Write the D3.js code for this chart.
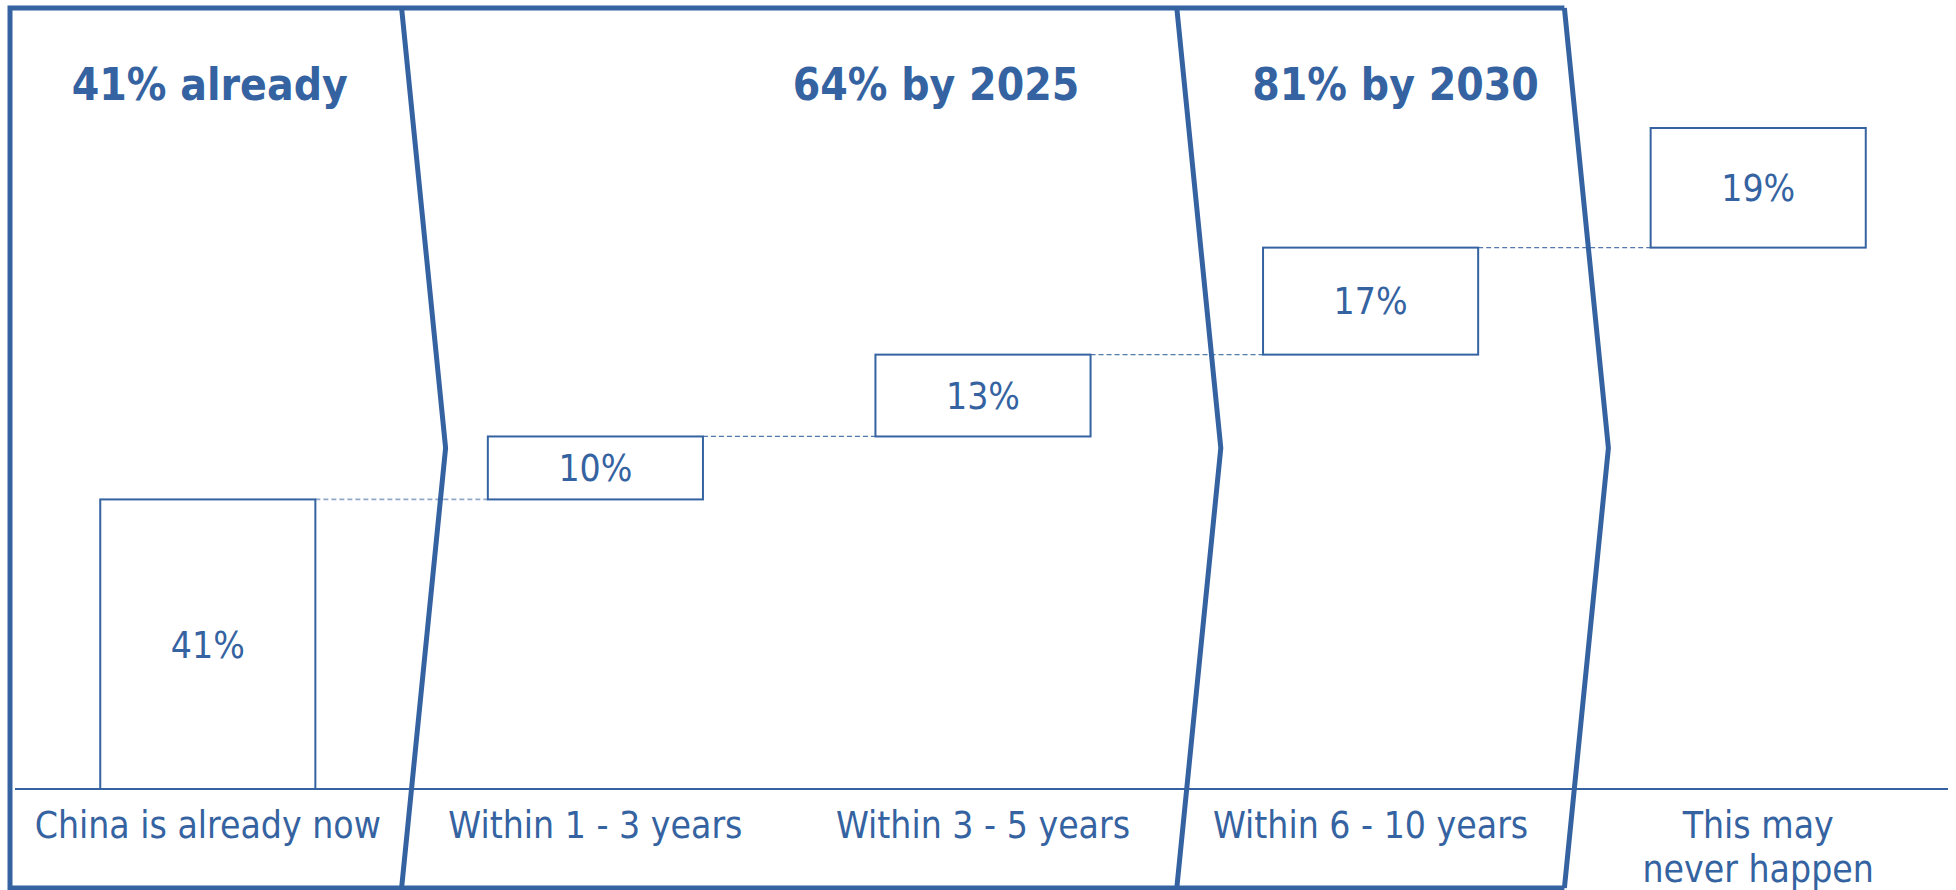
<!DOCTYPE html>
<html>
<head>
<meta charset="utf-8">
<script src="https://cdn.jsdelivr.net/npm/d3@7"></script>
<style>
  html, body { margin: 0; padding: 0; background: #ffffff; }
  svg { display: block; }
  text { font-family: "DejaVu Sans Condensed", "DejaVu Sans", sans-serif; fill: #3563a1; }
</style>
</head>
<body>
<svg id="chart" width="1956" height="890"></svg>
<script>
// When do respondents expect China to lead? Share of answers per time horizon.
const categories = [
  "China is already now",
  "Within 1 - 3 years",
  "Within 3 - 5 years",
  "Within 6 - 10 years",
  "This may never happen"
];
const shares = [41, 10, 13, 17, 19];

// Cumulative milestones shown as headers; each ends after the given category index.
const phaseTitles = ["41% already", "64% by 2025", "81% by 2030"];
const phaseLastCategory = [0, 2, 3];

// Value axis: the category axis crosses at the minimum, columns start there.
const valueDomain = [-5, 100];

const W = 1956, H = 890;
const blue = "#3563a1";
const frameTop = 8, frameBottom = 888;
const svg = d3.select("#chart");

const x = d3.scaleBand()
  .domain(categories)
  .range([14, 1952])
  .paddingInner(0.445)
  .paddingOuter(0.2225);

const y = d3.scaleLinear().domain(valueDomain).range([789, 128]);

// floating boxes: each one sits on top of the running total
const cum = d3.cumsum(shares);
const boxes = categories.map((c, i) => ({
  cat: c,
  value: shares[i],
  from: i === 0 ? valueDomain[0] : cum[i - 1],
  to: cum[i]
}));

// ---- phase frame with chevron separators ----
const step = x.step();
const x0 = x.range()[0];
const boundary = i => x0 + (i + 1) * step;            // right edge of category i's band
const chevronDepth = 44;
const midY = (frameTop + frameBottom) / 2;
const lastBoundary = boundary(phaseLastCategory[phaseLastCategory.length - 1]);

const frame = svg.append("g")
  .attr("fill", "none")
  .attr("stroke", blue)
  .attr("stroke-width", 5)
  .attr("stroke-linejoin", "miter");

frame.append("path")
  .attr("d", d3.line()([[lastBoundary, frameTop], [10, frameTop], [10, frameBottom], [lastBoundary, frameBottom]]));

phaseLastCategory.forEach(ci => {
  const bx = boundary(ci);
  frame.append("path")
    .attr("d", d3.line()([[bx, frameTop], [bx + chevronDepth, midY], [bx, frameBottom]]));
});

// ---- category axis line ----
svg.append("line")
  .attr("x1", 15).attr("x2", 1948)
  .attr("y1", y(valueDomain[0])).attr("y2", y(valueDomain[0]))
  .attr("stroke", blue)
  .attr("stroke-width", 2.2);

// ---- dashed connectors between consecutive boxes ----
svg.append("g")
  .selectAll("line")
  .data(boxes.slice(0, -1))
  .join("line")
  .attr("x1", d => x(d.cat) + x.bandwidth())
  .attr("x2", (d, i) => x(categories[i + 1]))
  .attr("y1", d => y(d.to))
  .attr("y2", d => y(d.to))
  .attr("stroke", blue)
  .attr("stroke-width", (d, i) => i === 0 ? 1.8 : 1.2)
  .attr("stroke-opacity", (d, i) => i === 0 ? 0.55 : 0.85)
  .attr("stroke-dasharray", "5 3");

// ---- boxes ----
svg.append("g")
  .selectAll("rect")
  .data(boxes)
  .join("rect")
  .attr("x", d => x(d.cat))
  .attr("width", x.bandwidth())
  .attr("y", d => y(d.to))
  .attr("height", d => y(d.from) - y(d.to))
  .attr("fill", "#ffffff")
  .attr("stroke", blue)
  .attr("stroke-width", 2);

// value labels
svg.append("g")
  .selectAll("text")
  .data(boxes)
  .join("text")
  .attr("x", d => x(d.cat) + x.bandwidth() / 2)
  .attr("y", d => (y(d.from) + y(d.to)) / 2)
  .attr("dy", "0.36em")
  .attr("text-anchor", "middle")
  .style("font-size", "37px")
  .text(d => d.value + "%");

// ---- category labels (balanced wrap into at most two lines) ----
const measure = svg.append("text").style("font-size", "37px").attr("opacity", 0);
function textWidth(s) { measure.text(s); return measure.node().getComputedTextLength(); }
function wrap(label, maxW) {
  if (textWidth(label) <= maxW) return [label];
  const words = label.split(" ");
  let best = null, bestW = Infinity;
  for (let k = 1; k < words.length; k++) {
    const a = words.slice(0, k).join(" "), b = words.slice(k).join(" ");
    const w = Math.max(textWidth(a), textWidth(b));
    if (w < bestW) { bestW = w; best = [a, b]; }
  }
  return best;
}

const catLabels = svg.append("g")
  .selectAll("text")
  .data(categories)
  .join("text")
  .attr("x", d => x(d) + x.bandwidth() / 2)
  .attr("y", 838)
  .attr("text-anchor", "middle")
  .style("font-size", "37px");

catLabels.each(function(d) {
  const lines = wrap(d, step - 10);
  d3.select(this).selectAll("tspan")
    .data(lines)
    .join("tspan")
    .attr("x", x(d) + x.bandwidth() / 2)
    .attr("dy", (l, i) => i === 0 ? 0 : 44)
    .text(l => l);
});
measure.remove();

// ---- phase headers ----
const titleDx = [2, -47, 25];
svg.append("g")
  .selectAll("text")
  .data(phaseTitles)
  .join("text")
  .attr("x", (t, i) => x(categories[phaseLastCategory[i]]) + x.bandwidth() / 2 + titleDx[i])
  .attr("y", 100)
  .attr("text-anchor", "middle")
  .style("font-size", "44px")
  .style("font-weight", "bold")
  .text(t => t);
</script>
</body>
</html>
